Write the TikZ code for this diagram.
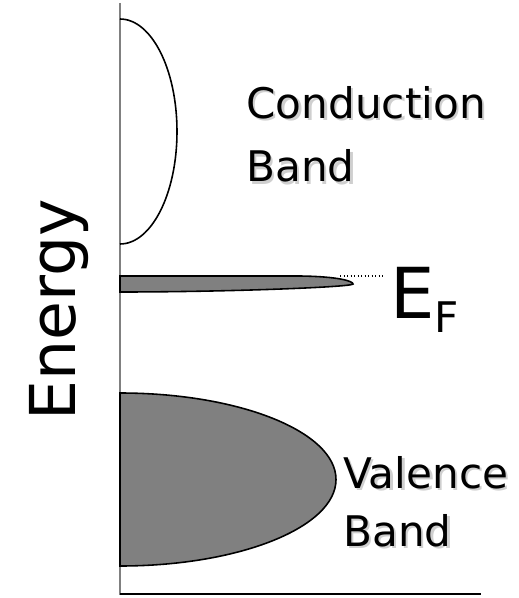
\documentclass[tikz,border=0pt]{standalone}
\usepackage{fontspec}
\setmainfont{DejaVu Sans}
\usepackage{tikz}
\usetikzlibrary{positioning,calc}
\definecolor{bshade}{HTML}{808080}
\definecolor{bshadow}{HTML}{CFCFCF}
\newcommand\shadowed[1]{\makebox[0pt][l]{\hspace{0.06em}\raisebox{-0.06em}{\textcolor{bshadow}{#1}}}#1}
\tikzset{
  axis/.style={draw=bshade,line width=0.6pt},
  baseax/.style={draw=black,line width=1.2pt},
  band/.style={draw=black,line width=0.9pt},
  fband/.style={band,fill=bshade},
  blbl/.style={font=\fontsize{24}{36}\selectfont,align=left,inner sep=0pt},
}
\begin{document}
\begin{tikzpicture}[x=0.02cm,y=-0.02cm]
  \useasboundingbox (0,0) rectangle (518,598);
  % axes
  \draw[axis] (120,3) -- (120,595);
  \draw[baseax] (120,594) -- (481,594);
  % conduction band
  \draw[band] (120,19) arc[start angle=-90,end angle=90,x radius=57,y radius=112.5];
  % impurity level at E_F
  \draw[fband] (120,276) -- (300,276) .. controls (338,276.5) and (353,281) .. (353,284)
    .. controls (353,287) and (230,292) .. (120,292) -- cycle;
  \coordinate (fl) at (340,276);
  \coordinate (flend) at (383,276);
  \draw[line width=0.7pt,dash pattern=on 0.7pt off 1.3pt] (fl) -- (flend);
  % valence band
  \draw[fband] (120,393) arc[start angle=-90,end angle=90,x radius=216,y radius=86.5] -- cycle;
  % labels
  \node[blbl,anchor=north west] (cb) at (246,86) {\shadowed{Conduction}\\\shadowed{Band}};
  \node[blbl,font=\fontsize{24}{33}\selectfont,anchor=north west] (vb) at (343,456) {\shadowed{Valence}\\\shadowed{Band}};
  \node[inner sep=0pt,anchor=base west,font=\fontsize{40}{40}\selectfont] (ef) at (390,318)
    {E\hspace{0pt}\raisebox{-8pt}{\fontsize{24}{24}\selectfont F}};
  \node[inner sep=0pt,anchor=base,rotate=90,font=\fontsize{36}{36}\selectfont] (en) at (75,310) {Energy};
\end{tikzpicture}
\end{document}
